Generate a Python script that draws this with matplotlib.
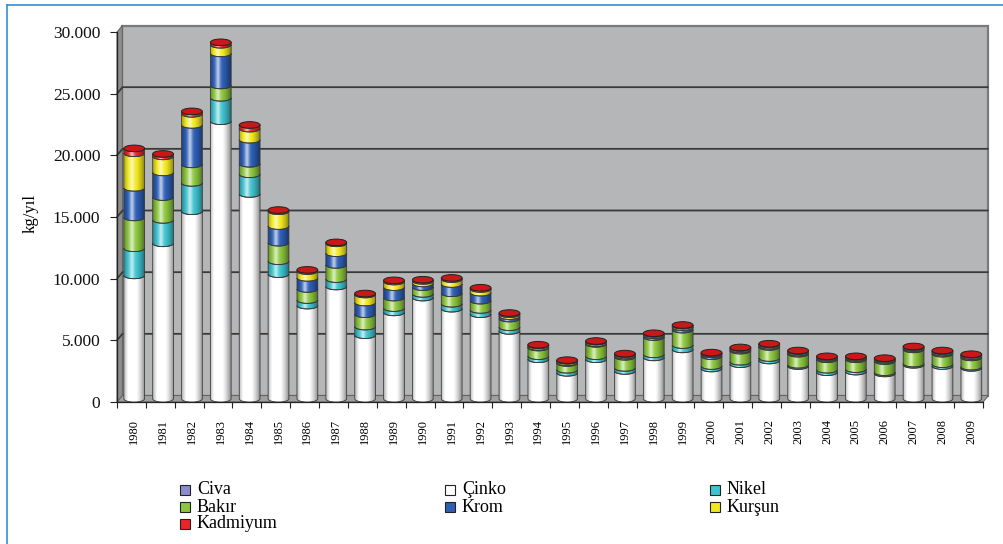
import numpy as np
import matplotlib
matplotlib.use("Agg")
import matplotlib.pyplot as plt
from matplotlib.path import Path
from matplotlib.patches import PathPatch, Ellipse, Polygon, Rectangle
from matplotlib.lines import Line2D

# ---- data (kg/yıl) ----
years = [str(y) for y in range(1980, 2010)]
series_names = ["Civa", "Çinko", "Nikel", "Bakır", "Krom", "Kurşun", "Kadmiyum"]
civa = [0] * 30
cinko = [10000, 12600, 15200, 22500, 16600, 10100, 7550, 9100, 5150, 7000,
         8200, 7300, 6850, 5500, 3200, 2100, 3200, 2250, 3350, 4000,
         2450, 2800, 3100, 2650, 2150, 2200, 2050, 2750, 2650, 2500]
nikel = [2200, 1900, 2300, 1900, 1600, 1050, 450, 600, 700, 350,
         300, 400, 350, 300, 250, 250, 250, 250, 250, 350,
         200, 200, 200, 100, 200, 200, 100, 100, 150, 100]
bakir = [2500, 1850, 1500, 1000, 850, 1500, 900, 1150, 1000, 850,
         550, 850, 750, 700, 700, 550, 1000, 900, 1400, 1250,
         800, 900, 900, 900, 850, 800, 900, 1150, 850, 750]
krom = [2400, 2000, 3200, 2600, 1950, 1350, 900, 950, 950, 850,
        300, 750, 650, 200, 50, 50, 50, 100, 150, 200,
        150, 100, 100, 100, 100, 100, 100, 100, 100, 100]
kursun = [2800, 1300, 900, 700, 900, 1200, 550, 800, 650, 450,
          200, 400, 300, 150, 120, 120, 120, 100, 100, 120,
          80, 100, 100, 100, 80, 80, 80, 80, 100, 100]
kadmiyum = [400, 200, 200, 200, 300, 100, 100, 80, 80, 100,
            100, 100, 100, 100, 60, 60, 60, 60, 60, 60,
            60, 60, 60, 60, 60, 60, 60, 60, 60, 60]
y_ticks = [0, 5000, 10000, 15000, 20000, 25000, 30000]

series = [civa, cinko, nikel, bakir, krom, kursun, kadmiyum]
colors = ["#8b8bd0", "#ffffff", "#3fc3cf", "#8cc63f", "#2e5fb5", "#f2e81e", "#e8262a"]
cap_color = "#c81818"

plt.rcParams["font.family"] = ["Liberation Serif", "DejaVu Serif"]

W, H, DPI = 1004, 544, 100
fig = plt.figure(figsize=(W / DPI, H / DPI), dpi=DPI)

# front plane of the 3-D box, in pixels
x0, x1, ytop, ybot = 117, 983, 32, 402
ax = fig.add_axes([x0 / W, 1 - ybot / H, (x1 - x0) / W, (ybot - ytop) / H])
n = len(years)
xmin, xmax, ymax = -0.5, n - 0.5, 30000
ax.set_autoscale_on(False)
ax.set_xlim(xmin, xmax)
ax.set_ylim(0, ymax)
ax.set_facecolor("none")

px_x = (x1 - x0) / (xmax - xmin)      # pixels per category
px_y = (ybot - ytop) / ymax           # pixels per kg
DX = 5.5 / px_x                       # box depth, data units
DY = 6.5 / px_y
mdx, mdy = DX / 2, DY / 2             # bars sit half-way into the box

# ---- walls and floor ----
ax.add_patch(Polygon([(xmin + DX, DY), (xmax + DX, DY), (xmax + DX, ymax + DY), (xmin + DX, ymax + DY)],
                     closed=True, facecolor="#b4b6b8", edgecolor="#7a7a7a", lw=1.6, zorder=0, clip_on=False))
ax.add_patch(Polygon([(xmin, 0), (xmin, ymax), (xmin + DX, ymax + DY), (xmin + DX, DY)],
                     closed=True, facecolor="#8c8c8c", edgecolor="#666666", lw=0.8, zorder=0.5, clip_on=False))
ax.add_patch(Polygon([(xmin, 0), (xmax, 0), (xmax + DX, DY), (xmin + DX, DY)],
                     closed=True, facecolor="#a0a0a0", edgecolor="#666666", lw=0.8, zorder=0.5, clip_on=False))
for v in y_ticks[1:-1]:
    ax.plot([xmin, xmin + DX, xmax + DX], [v, v + DY, v + DY], color="#3a3a3a", lw=1.3,
            zorder=1, clip_on=False, solid_capstyle="butt")

# ---- cylinders ----
hw = 0.36
ry = 3.3 / px_y
t = np.linspace(0, np.pi, 30)


def seg_path(xc, lo, hi):
    lower = np.column_stack([xc - hw * np.cos(t), lo - ry * np.sin(t)])
    upper = np.column_stack([xc + hw * np.cos(t), hi - ry * np.sin(t)])
    verts = np.vstack([lower, upper, lower[:1]])
    codes = [Path.MOVETO] + [Path.LINETO] * (len(verts) - 2) + [Path.CLOSEPOLY]
    return Path(verts, codes)


u = np.linspace(0, 1, 80)
hl = np.zeros((1, 80, 4))
hl[..., :3] = 1.0
hl[0, :, 3] = 0.65 * np.exp(-((u - 0.38) / 0.12) ** 2)
dk = np.zeros((1, 80, 4))
dk[0, :, 3] = 0.45 * np.clip((u - 0.58) / 0.42, 0, 1) ** 1.4 + 0.3 * np.clip((0.22 - u) / 0.22, 0, 1) ** 1.4

values = np.array(series, dtype=float)
cum = np.vstack([np.zeros(n), np.cumsum(values, axis=0)])
for i in range(n):
    xc = i + mdx
    base = mdy
    outlines = []
    for k in range(len(series)):
        lo, hi = base + cum[k, i], base + cum[k + 1, i]
        if hi - lo <= 0:
            continue
        p = seg_path(xc, lo, hi)
        ax.add_patch(PathPatch(p, facecolor=colors[k], edgecolor="none", zorder=2))
        outlines.append(p)
    top = base + cum[-1, i]
    body = PathPatch(seg_path(xc, base, top), transform=ax.transData)
    for img in (hl, dk):
        im = ax.imshow(img, extent=[xc - hw, xc + hw, base - ry, top], aspect="auto",
                       interpolation="bilinear", zorder=2.5)
        im.set_clip_path(body)
    for p in outlines:
        ax.add_patch(PathPatch(p, facecolor="none", edgecolor="#3a3a3a", lw=0.6, zorder=3))
    ax.add_patch(Ellipse((xc, top), 2 * hw, 2 * ry, facecolor=cap_color, edgecolor="#222222",
                         lw=0.7, zorder=4))

# ---- axes ----
for s in ("top", "right"):
    ax.spines[s].set_visible(False)
for s in ("left", "bottom"):
    ax.spines[s].set_color("#222222")
    ax.spines[s].set_linewidth(0.9)
    ax.spines[s].set_zorder(5)

ax.set_yticks(y_ticks)
ax.set_yticklabels([f"{v:,}".replace(",", ".") for v in y_ticks], fontsize=12.5)
ax.tick_params(axis="y", length=5, width=0.8, color="#222222", pad=7, labelcolor="#111111")

ax.set_xticks(np.arange(n + 1) - 0.5)
ax.set_xticklabels([])
ax.tick_params(axis="x", which="major", length=4, width=0.8, color="#222222")
ax.set_xticks(np.arange(n) + mdx, minor=True)
ax.set_xticklabels(years, minor=True, rotation=90, fontsize=9, va="top", ha="center")
ax.tick_params(axis="x", which="minor", length=0, pad=12)

fig.text(31 / W, 1 - 214 / H, "kg/yıl", rotation=90, ha="center", va="center", fontsize=12)

# ---- legend (three columns, filled row by row) ----
leg_cols = [180, 445, 710]
leg_rows = [490, 507, 524]
for k, name in enumerate(series_names):
    r, c = divmod(k, 3)
    mx, my = leg_cols[c], leg_rows[r]
    fig.patches.append(Rectangle((mx / W, 1 - (my + 5) / H), 10 / W, 10 / H,
                                 transform=fig.transFigure, facecolor=colors[k],
                                 edgecolor="#222222", lw=0.8))
    fig.text((mx + 17) / W, 1 - my / H, name, ha="left", va="center", fontsize=13,
             family=["Liberation Serif", "DejaVu Serif"])

# ---- frame ----
fig.add_artist(Line2D([7 / W, 1], [1 - 4.5 / H, 1 - 4.5 / H], transform=fig.transFigure,
                      color="#2f8fd5", lw=1.2))
fig.add_artist(Line2D([7 / W, 7 / W], [0, 1 - 4.5 / H], transform=fig.transFigure,
                      color="#2f8fd5", lw=1.2))

fig.savefig("out.png", dpi=DPI)
